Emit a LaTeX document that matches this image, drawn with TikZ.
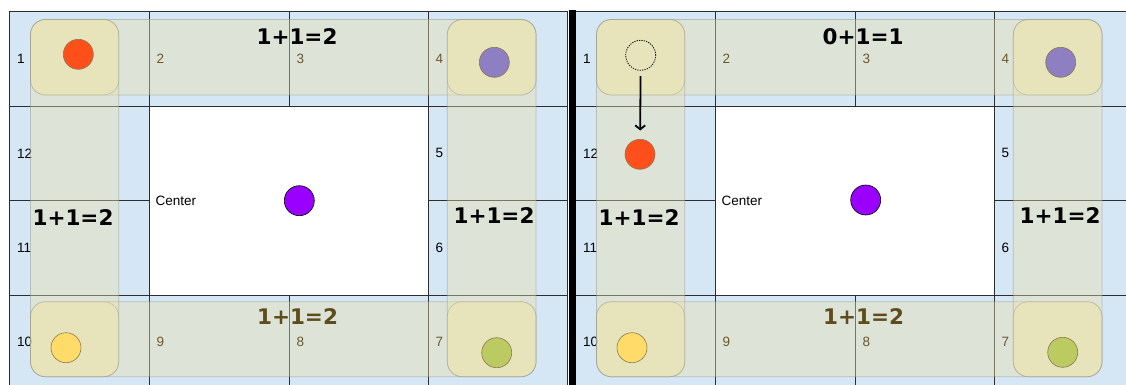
\documentclass[tikz,border=0pt]{standalone}
\usepackage{fontspec}
\newfontfamily\labfont{Liberation Sans}
\newfontfamily\ttlfont{DejaVu Sans}
\usetikzlibrary{arrows.meta}
\definecolor{cellblue}{RGB}{213,230,245}
\definecolor{gridcol}{RGB}{45,45,45}
\definecolor{bandfill}{RGB}{235,225,170}
\definecolor{bandedge}{RGB}{150,150,140}
\definecolor{cornerfill}{RGB}{244,231,164}
\definecolor{olivetext}{RGB}{105,88,45}
\definecolor{browntitle}{RGB}{94,76,28}
\definecolor{dotorange}{RGB}{255,80,28}
\definecolor{dotlilac}{RGB}{142,126,194}
\definecolor{dotviolet}{RGB}{153,0,255}
\definecolor{dotyellow}{RGB}{255,220,106}
\definecolor{dotgreen}{RGB}{188,202,98}
\definecolor{dotedge}{RGB}{140,120,80}
\tikzset{
  cellnum/.style={font=\labfont\fontsize{13.5}{16}\selectfont, anchor=west, inner sep=0pt},
  ttl/.style={font=\ttlfont\bfseries\fontsize{21.5}{25}\selectfont, inner sep=0pt},
  band/.style={fill=bandfill, fill opacity=0.4, draw=bandedge, draw opacity=0.5, line width=0.7pt, rounded corners=15pt},
  cornerbox/.style={fill=cornerfill, fill opacity=0.3, draw=bandedge, draw opacity=0.4, line width=0.7pt, rounded corners=15pt},
  dot/.style={circle, minimum size=30pt, inner sep=0pt, draw=dotedge, line width=0.6pt},
  gridln/.style={draw=gridcol, line width=0.9pt},
}
\newcommand\drawpanel[2]{%
  \fill[cellblue] (9.5,11.7) rectangle (567,392);
  \fill[white] (149,106) rectangle (428,295);
  \draw[gridln] (9.5,392) -- (9.5,11.7) -- (567,11.7) -- (567,392);
  \draw[gridln] (149,11.7) -- (149,392);
  \draw[gridln] (428,11.7) -- (428,392);
  \draw[gridln] (289,11.7) -- (289,106);
  \draw[gridln] (289,295) -- (289,392);
  \draw[gridln] (9.5,106) -- (567,106);
  \draw[gridln] (9.5,295) -- (567,295);
  \draw[gridln] (9.5,200.7) -- (149,200.7);
  \draw[gridln] (428,200.7) -- (567,200.7);
  \node[cellnum] (#1n1) at (17,58.9) {1};
  \node[cellnum] (#1n5) at (435.5,153.4) {5};
  \node[cellnum] (#1n6) at (435.5,247.9) {6};
  \node[cellnum] (#1n10) at (17,342.3) {10};
  \node[cellnum] (#1n11) at (17,247.9) {11};
  \node[cellnum] (#1n12) at (17,153.4) {12};
  \node[cellnum] (#1center) at (155.5,201) {Center};
  \path[band] (30.5,19.5) rectangle (536,95);
  \path[band] (30.5,301.7) rectangle (536,376.7);
  \path[band] (30.5,19.5) rectangle (118.7,376.7);
  \path[band] (447.3,19.5) rectangle (536,376.7);
  \path[cornerbox] (30.5,19.5) rectangle (118.7,95);
  \path[cornerbox] (447.3,19.5) rectangle (536,95);
  \path[cornerbox] (30.5,301.7) rectangle (118.7,376.7);
  \path[cornerbox] (447.3,301.7) rectangle (536,376.7);
  \node[cellnum, text=olivetext] (#1n2) at (156.5,58.9) {2};
  \node[cellnum, text=olivetext] (#1n3) at (296.5,58.9) {3};
  \node[cellnum, text=olivetext] (#1n4) at (435.5,58.9) {4};
  \node[cellnum, text=olivetext] (#1n7) at (435.5,342.3) {7};
  \node[cellnum, text=olivetext] (#1n8) at (296.5,342.3) {8};
  \node[cellnum, text=olivetext] (#1n9) at (156.5,342.3) {9};
  \node[ttl, text=browntitle] (#1tbottom) at (297.5,316.5) {1+1=2};
  \node[ttl] (#1ttop) at (297,37) {#2};
  \node[ttl] (#1tleft) at (73,218) {1+1=2};
  \node[ttl] (#1tright) at (494,215.5) {1+1=2};
}
\begin{document}
\begin{tikzpicture}[x=1pt,y=-1pt]
  \path[use as bounding box] (0,0) rectangle (1126,385);
  \clip (0,0) rectangle (1126,385);
  \fill[white] (0,0) rectangle (1126,385);
  \begin{scope}
    \drawpanel{L}{1+1=2}
  \end{scope}
  \begin{scope}[xshift=566pt]
    \drawpanel{R}{0+1=1}
  \end{scope}
  \fill[black] (569,10) rectangle (575.5,392);
  % left panel dots
  \node[dot, fill=dotorange] (Lorange) at (78.3,54.3) {};
  \node[dot, fill=dotlilac] (Llilac) at (494.3,62.3) {};
  \node[dot, fill=dotviolet, draw=black] (Lviolet) at (299.3,200.7) {};
  \node[dot, fill=dotyellow] (Lyellow) at (66,347.7) {};
  \node[dot, fill=dotgreen] (Lgreen) at (496.7,352.7) {};
  % right panel dots
  \node[dot, draw=black, dash pattern=on 1.2pt off 1.2pt, line width=0.8pt] (Rghost) at (640.7,55.3) {};
  \node[dot, fill=dotorange] (Rorange) at (640,154.3) {};
  \node[dot, fill=dotlilac] (Rlilac) at (1060.7,62.3) {};
  \node[dot, fill=dotviolet, draw=black] (Rviolet) at (865.7,200) {};
  \node[dot, fill=dotyellow] (Ryellow) at (632,347.7) {};
  \node[dot, fill=dotgreen] (Rgreen) at (1062.7,352.3) {};
  \draw[-{Straight Barb[length=4pt,width=10pt]}, line width=1.8pt, shorten <=5.5pt, shorten >=8.5pt] (Rghost) -- (Rorange);
\end{tikzpicture}
\end{document}
